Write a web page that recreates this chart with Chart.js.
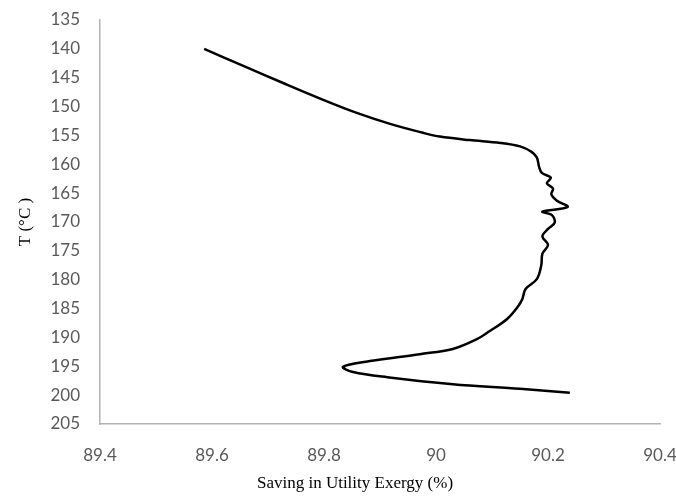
<!DOCTYPE html>
<html>
<head>
<meta charset="utf-8">
<script src="https://cdn.jsdelivr.net/npm/chart.js@4/dist/chart.umd.min.js"></script>
<style>
  html, body { margin: 0; padding: 0; background: #ffffff; }
  #wrap { width: 676px; height: 496px; }
</style>
</head>
<body>
<div id="wrap"><canvas id="c" width="676" height="496"></canvas></div>
<script>
// Temperature (°C) along the profile, top to bottom
const temperatures = [
  140, 143, 146, 149, 151, 153, 154.5, 155.2, 155.8, 156.3,
  156.9, 157.8, 158.8, 160.4, 161.5, 162.3, 163.3, 164.2, 165.2, 166.3,
  167.4, 168.2, 168.8, 170.1, 171.2, 172.5, 174.0, 175.5, 177.5, 179.9,
  181.6, 183.4, 184.7, 186.8, 188.9, 190.3, 192.0, 192.9, 194.1, 195.1,
  196.0, 196.9, 198.1, 198.9, 199.6
];
// Saving in utility exergy (%) at each temperature
const savings = [
  89.586, 89.657, 89.729, 89.803, 89.856, 89.918, 89.975, 90.007, 90.060, 90.115,
  90.150, 90.170, 90.180, 90.184, 90.189, 90.205, 90.198, 90.209, 90.206, 90.216,
  90.235, 90.190, 90.207, 90.212, 90.200, 90.190, 90.200, 90.190, 90.188, 90.180,
  90.160, 90.154, 90.146, 90.127, 90.096, 90.073, 90.030, 89.971, 89.882, 89.834,
  89.852, 89.913, 90.030, 90.150, 90.239
];
const xTickValues = [89.4, 89.6, 89.8, 90, 90.2, 90.4];
const xTickLabels = ['89.4', '89.6', '89.8', '90', '90.2', '90.4'];
const yTickValues = [135, 140, 145, 150, 155, 160, 165, 170, 175, 180, 185, 190, 195, 200, 205];
const xTitle = 'Saving in Utility Exergy (%)';
const yTitle = 'T (°C )';

const points = temperatures.map((t, i) => ({ x: savings[i], y: t }));

const tickFont = { family: 'Lato, "Open Sans", sans-serif', size: 17 };
const titleFont = { family: '"Liberation Serif", "Times New Roman", serif', size: 17 };

// Horizontal axis title, centred under the whole figure rather than the plot area
const xTitlePlugin = {
  id: 'xTitle',
  afterDraw(chart) {
    const ctx = chart.ctx;
    ctx.save();
    ctx.font = `${titleFont.size}px ${titleFont.family}`;
    ctx.fillStyle = '#000000';
    ctx.textAlign = 'center';
    ctx.textBaseline = 'middle';
    ctx.fillText(xTitle, 355, 484);
    ctx.restore();
  }
};

new Chart(document.getElementById('c'), {
  type: 'scatter',
  data: {
    datasets: [{
      data: points,
      showLine: true,
      borderColor: '#000000',
      borderWidth: 2.5,
      pointRadius: 0,
      tension: 0.35,
      fill: false
    }]
  },
  plugins: [xTitlePlugin],
  options: {
    responsive: false,
    animation: false,
    layout: { padding: { top: 20, right: 16, left: 0, bottom: 0 } },
    plugins: { legend: { display: false }, tooltip: { enabled: false } },
    scales: {
      x: {
        type: 'linear',
        min: 89.4,
        max: 90.4,
        afterBuildTicks: (axis) => { axis.ticks = xTickValues.map(v => ({ value: v })); },
        afterFit: (axis) => { axis.height = 72; axis.paddingLeft = 0; axis.paddingRight = 0; },
        ticks: {
          color: '#595959',
          font: tickFont,
          padding: 21,
          maxRotation: 0,
          callback: (v, i) => xTickLabels[i]
        },
        grid: { display: false, drawTicks: false },
        border: { display: true, color: '#b3b3b3', width: 1.5 },
        title: { display: false }
      },
      y: {
        type: 'linear',
        reverse: true,
        min: 135,
        max: 205,
        afterBuildTicks: (axis) => { axis.ticks = yTickValues.map(v => ({ value: v })); },
        afterFit: (axis) => { axis.width = 100; axis.paddingTop = 0; axis.paddingBottom = 0; },
        ticks: {
          color: '#595959',
          font: tickFont,
          padding: 20,
          callback: (v) => String(v)
        },
        grid: { display: false, drawTicks: false },
        border: { display: true, color: '#b3b3b3', width: 1.5 },
        title: {
          display: true,
          text: yTitle,
          color: '#000000',
          font: titleFont,
          padding: { top: 15, bottom: 0 }
        }
      }
    }
  }
});
</script>
</body>
</html>
